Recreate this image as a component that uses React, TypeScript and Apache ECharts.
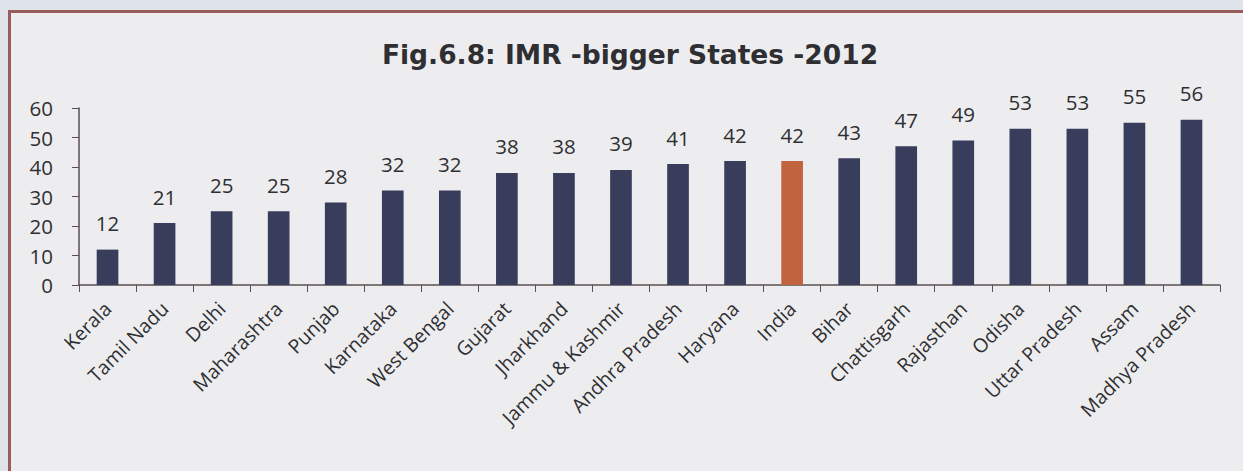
import React, { useEffect, useRef } from "react";
import * as echarts from "echarts";

const states = [
  "Kerala", "Tamil Nadu", "Delhi", "Maharashtra", "Punjab", "Karnataka", "West Bengal",
  "Gujarat", "Jharkhand", "Jammu & Kashmir", "Andhra Pradesh", "Haryana", "India", "Bihar",
  "Chattisgarh", "Rajasthan", "Odisha", "Uttar Pradesh", "Assam", "Madhya Pradesh",
];
const imrValues = [12, 21, 25, 25, 28, 32, 32, 38, 38, 39, 41, 42, 42, 43, 47, 49, 53, 53, 55, 56];
const highlight = "India";
const yTicks = [0, 10, 20, 30, 40, 50, 60];

const BAR = "#393d5c";
const HIGHLIGHT = "#c2633f";
const TXT = "#2f2f33";
const FONT = "'Open Sans', sans-serif";
const FRAME = "#9a5c5c";

export default function App() {
  const ref = useRef<HTMLDivElement>(null);
  useEffect(() => {
    document.body.style.margin = "0";
    document.body.style.overflow = "hidden";
    const chart = echarts.init(ref.current!, null, { renderer: "svg" });
    chart.setOption({
      animation: false,
      backgroundColor: "transparent",
      textStyle: { fontFamily: FONT },
      title: {
        text: "Fig.6.8: IMR -bigger States -2012",
        left: 625,
        textAlign: "center",
        top: 36,
        textStyle: { fontFamily: "'DejaVu Sans', sans-serif", fontWeight: "bold", fontSize: 26.5, color: TXT },
      },
      grid: { left: 79, right: 23, top: 108, bottom: 186, containLabel: false },
      xAxis: {
        type: "category",
        data: states,
        boundaryGap: true,
        axisLine: { show: true, lineStyle: { color: "#5a4e52", width: 1.5 } },
        axisTick: { show: true, inside: false, length: 7, alignWithLabel: false, lineStyle: { color: "#5a4e52" } },
        axisLabel: { rotate: 45, interval: 0, fontSize: 19.5, color: TXT, margin: 20, fontFamily: FONT },
      },
      yAxis: {
        type: "value",
        min: 0,
        max: 60,
        interval: 10,
        splitLine: { show: false },
        axisLine: { show: true, lineStyle: { color: "#5a4e52", width: 1.5 } },
        axisTick: { show: true, length: 7, lineStyle: { color: "#5a4e52" } },
        axisLabel: {
          fontSize: 20.5,
          color: TXT,
          margin: 26,
          fontFamily: FONT,
          formatter: (v: number) => (yTicks.includes(v) ? String(v) : ""),
        },
      },
      series: [
        {
          type: "bar",
          barWidth: "38%",
          data: imrValues.map((v, i) => ({
            value: v,
            itemStyle: { color: states[i] === highlight ? HIGHLIGHT : BAR },
          })),
          label: {
            show: true,
            position: "top",
            distance: 16,
            fontSize: 20.5,
            color: TXT,
            fontFamily: FONT,
          },
        },
      ],
    });
    return () => chart.dispose();
  }, []);
  return (
    <div style={{ position: "fixed", left: 0, top: 0, right: 0, bottom: 0, background: "#dfe3ea", overflow: "hidden" }}>
      <div
        style={{
          position: "absolute",
          left: 8,
          top: 10,
          right: -60,
          bottom: -60,
          background: "#ededef",
          borderLeft: `3px solid ${FRAME}`,
          borderTop: `3px solid ${FRAME}`,
        }}
      />
      <div ref={ref} style={{ position: "absolute", left: 0, top: 0, width: 1243, height: 471 }} />
    </div>
  );
}
